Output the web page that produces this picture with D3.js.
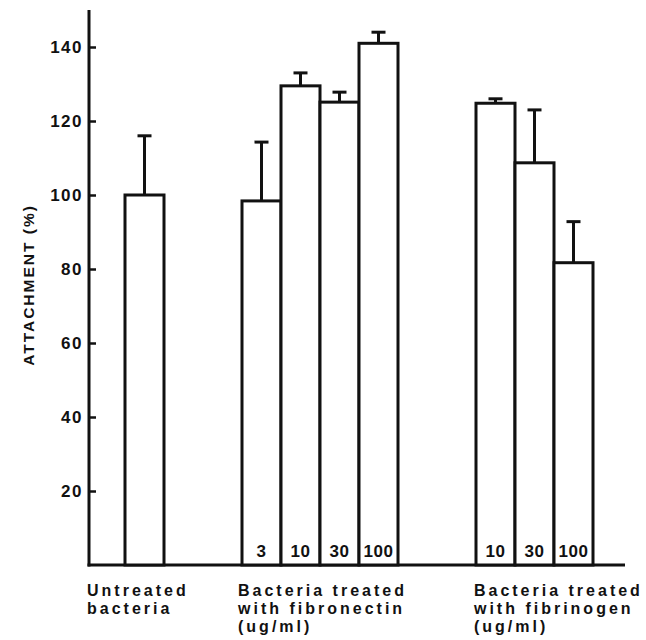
<!DOCTYPE html>
<html>
<head>
<meta charset="utf-8">
<script src="https://cdn.jsdelivr.net/npm/d3@7"></script>
<style>
  body { margin: 0; background: #fff; }
  svg text { font-family: "Liberation Sans", Arial, Helvetica, sans-serif; font-weight: bold; fill: #111; }
</style>
</head>
<body>
<svg id="chart" width="646" height="640"></svg>
<script>
// slot = position on x (one slot per bar width, gaps are empty slots)
const bars = [
  {group: "untreated",   label: "",    slot: 0,  value: 100,   err: 116},
  {group: "fibronectin", label: "3",   slot: 3,  value: 98.4,  err: 114.3},
  {group: "fibronectin", label: "10",  slot: 4,  value: 129.5, err: 133},
  {group: "fibronectin", label: "30",  slot: 5,  value: 125.1, err: 127.8},
  {group: "fibronectin", label: "100", slot: 6,  value: 141,   err: 144},
  {group: "fibrinogen",  label: "10",  slot: 9,  value: 124.8, err: 126},
  {group: "fibrinogen",  label: "30",  slot: 10, value: 108.7, err: 123},
  {group: "fibrinogen",  label: "100", slot: 11, value: 81.7,  err: 92.8}
];
const yTicks = [20, 40, 60, 80, 100, 120, 140];
const groupLabels = [
  {slot: -1,   lines: ["Untreated", "bacteria"]},
  {slot: 3,    lines: ["Bacteria treated", "with fibronectin", "(ug/ml)"]},
  {slot: 9.05, lines: ["Bacteria treated", "with fibrinogen", "(ug/ml)"]}
];
const yTitle = "ATTACHMENT (%)";

const svg = d3.select("#chart");
const base = 565;

const x = d3.scaleBand()
  .domain(d3.range(13))
  .range([125, 632])
  .padding(0);

const xs = s => 125 + s * x.step();   // for fractional label positions

const y = d3.scaleLinear()
  .domain([0, 140])
  .range([base, 47]);

// Trục Y
const yAxis = svg.append("g")
  .attr("transform", "translate(89,0)")
  .call(d3.axisLeft(y).tickValues(yTicks).tickSize(-7).tickPadding(6));
yAxis.select(".domain").remove();
yAxis.selectAll(".tick line").attr("stroke", "#111").attr("stroke-width", 2.5);
yAxis.selectAll(".tick text")
  .style("font-size", "17px")
  .style("letter-spacing", "1.5px")
  .attr("fill", "#111");

svg.append("line")
  .attr("x1", 89).attr("x2", 89)
  .attr("y1", 10).attr("y2", base + 1.5)
  .attr("stroke", "#111").attr("stroke-width", 3);

// đường đáy
svg.append("line")
  .attr("x1", 87.5).attr("x2", 625)
  .attr("y1", base).attr("y2", base)
  .attr("stroke", "#111").attr("stroke-width", 3);

// Cột
svg.selectAll("rect.bar")
  .data(bars)
  .enter().append("rect")
    .attr("class", "bar")
    .attr("x", d => x(d.slot))
    .attr("y", d => y(d.value))
    .attr("width", x.bandwidth())
    .attr("height", d => base - y(d.value))
    .attr("fill", "#fff")
    .attr("stroke", "#111")
    .attr("stroke-width", 3);

// Error bars
const eb = svg.selectAll("g.err")
  .data(bars)
  .enter().append("g")
    .attr("class", "err")
    .attr("transform", d => `translate(${x(d.slot) + x.bandwidth() / 2},0)`);
eb.append("line")
  .attr("y1", d => y(d.value)).attr("y2", d => y(d.err))
  .attr("stroke", "#111").attr("stroke-width", 3);
eb.append("line")
  .attr("x1", -7).attr("x2", 7)
  .attr("y1", d => y(d.err)).attr("y2", d => y(d.err))
  .attr("stroke", "#111").attr("stroke-width", 3);

// Nhãn nồng độ trong cột
svg.selectAll("text.conc")
  .data(bars.filter(d => d.label))
  .enter().append("text")
    .attr("class", "conc")
    .attr("x", d => x(d.slot) + x.bandwidth() / 2)
    .attr("y", base - 8)
    .attr("text-anchor", "middle")
    .style("font-size", "17px")
    .style("letter-spacing", "0.5px")
    .text(d => d.label);

// Nhãn nhóm dưới trục
groupLabels.forEach(g => {
  const gx = g.slot < 0 ? 87 : xs(g.slot) - 4;
  const t = svg.append("text")
    .attr("x", gx)
    .attr("y", 596)
    .style("font-size", "16px")
    .style("letter-spacing", "3px");
  g.lines.forEach((l, i) => {
    t.append("tspan")
      .attr("x", gx)
      .attr("y", 596 + i * 18)
      .text(l);
  });
});

// Tiêu đề trục Y
svg.append("text")
  .attr("transform", "translate(34,285) rotate(-90)")
  .attr("text-anchor", "middle")
  .style("font-size", "15.5px")
  .style("letter-spacing", "2px")
  .text(yTitle);
</script>
</body>
</html>
